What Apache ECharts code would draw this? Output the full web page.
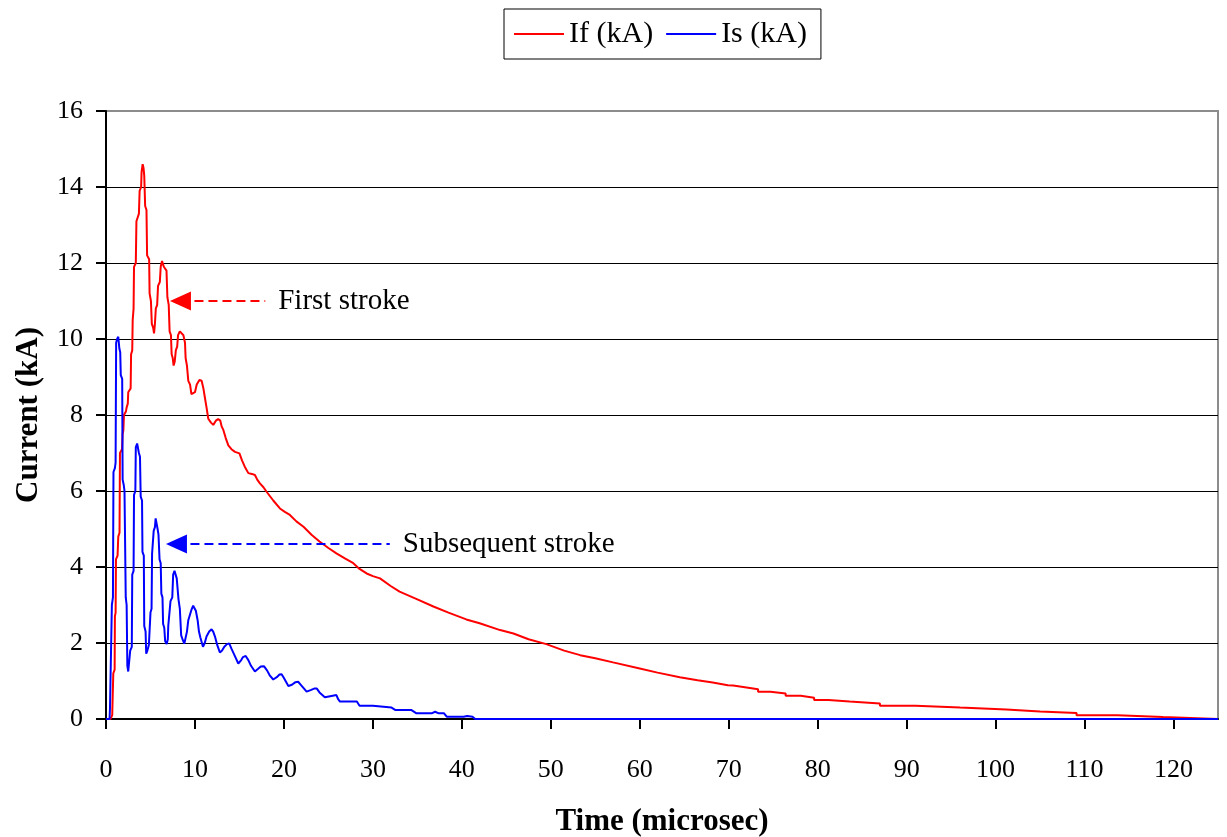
<!DOCTYPE html>
<html>
<head>
<meta charset="utf-8">
<script src="https://cdn.jsdelivr.net/npm/echarts@6/dist/echarts.min.js"></script>
<style>
html,body{margin:0;padding:0;background:#fff;}
#c{width:1227px;height:837px;}
</style>
</head>
<body>
<div id="c"></div>
<script>
// Series names
const seriesNames = ['If (kA)', 'Is (kA)'];

// First stroke (If): time in microseconds and current in kA
const tF = [0,0.5,0.55,0.7,0.72,0.8,0.82,0.97,1.0,1.08,1.12,1.3,1.38,1.52,1.57,1.8,1.87,1.95,2.02,2.25,2.32,2.45,2.5,2.77,2.82,2.95,3.0,3.1,3.15,3.35,3.42,3.7,3.78,3.95,4.0,4.12,4.22,4.3,4.4,4.55,4.62,4.85,4.9,5.05,5.15,5.3,5.4,5.5,5.6,5.75,5.85,6.05,6.15,6.3,6.4,6.5,6.8,6.9,7.05,7.15,7.3,7.38,7.5,7.6,7.72,7.85,8.0,8.1,8.3,8.5,8.7,8.88,8.95,9.1,9.25,9.45,9.6,9.8,10.0,10.2,10.5,10.75,10.95,11.1,11.3,11.5,11.8,12.06,12.35,12.6,12.85,13.0,13.2,13.45,13.75,14.1,14.5,15.0,15.3,15.6,16.0,16.4,16.74,17.0,17.3,17.7,18.05,18.8,19.55,20.1,20.67,21.4,22.2,23.1,24.0,25.0,25.9,26.9,27.8,28.5,29.3,30.0,30.8,32.0,33.0,35.0,36.8,38.5,40.5,42.0,44.3,45.8,47.5,49.5,51.5,53.3,55.0,57.0,60.0,62.0,64.5,66.5,68.2,69.9,70.5,70.5,72.0,72.0,73.3,73.3,74.7,74.7,76.4,76.4,78.1,78.1,79.6,79.6,81.2,81.2,83.6,83.6,87.0,87.0,91.0,91.0,96.0,96.0,101.2,101.2,105.0,105.0,109.1,109.1,113.7,113.7,118.8,118.8,125];
const iF = [0,0,0.05,0.1,0.3,0.3,1.2,1.3,2.7,2.8,4.2,4.3,4.8,4.9,7.0,7.1,7.5,7.6,8.0,8.1,8.2,8.3,8.6,8.7,9.6,9.7,10.5,10.8,11.9,12.0,13.1,13.3,13.9,14.0,14.4,14.6,14.5,14.3,13.5,13.4,12.2,12.1,11.2,11.0,10.4,10.3,10.15,10.4,10.8,10.9,11.4,11.5,11.9,12.05,12.1,11.9,11.8,11.1,10.9,10.2,10.1,9.6,9.5,9.3,9.4,9.7,9.8,10.1,10.2,10.25,10.1,9.9,9.5,9.3,8.9,8.8,8.55,8.5,8.6,8.8,8.92,8.9,8.7,8.48,8.2,7.9,7.8,7.74,7.85,7.89,7.85,7.7,7.6,7.4,7.2,7.1,7.03,6.99,6.8,6.64,6.47,6.45,6.42,6.3,6.2,6.1,5.98,5.75,5.54,5.45,5.37,5.2,5.06,4.85,4.67,4.5,4.36,4.22,4.1,3.95,3.83,3.76,3.7,3.5,3.35,3.15,2.96,2.8,2.62,2.52,2.34,2.25,2.1,1.97,1.8,1.68,1.6,1.49,1.33,1.22,1.1,1.02,0.96,0.89,0.88,0.83,0.83,0.78,0.78,0.72,0.72,0.67,0.67,0.61,0.61,0.56,0.56,0.5,0.5,0.46,0.46,0.41,0.41,0.35,0.35,0.3,0.3,0.25,0.25,0.2,0.2,0.16,0.16,0.1,0.1,0.05,0.05,0,0];

// Subsequent stroke (Is): time in microseconds and current in kA
const tS = [0,0.4,0.45,0.62,0.66,0.78,0.84,1.0,1.08,1.14,1.25,1.38,1.5,1.6,1.66,1.82,1.87,2.0,2.08,2.22,2.32,2.4,2.5,2.65,2.72,2.9,2.95,3.1,3.15,3.3,3.35,3.5,3.6,3.7,3.82,3.9,4.05,4.1,4.25,4.3,4.45,4.52,4.65,4.82,4.95,5.0,5.12,5.18,5.3,5.36,5.5,5.58,5.7,5.8,5.9,6.02,6.15,6.22,6.35,6.42,6.55,6.65,6.82,6.95,7.0,7.15,7.25,7.45,7.55,7.7,7.8,7.95,8.15,8.3,8.45,8.6,8.8,8.95,9.1,9.25,9.45,9.6,9.8,9.95,10.1,10.3,10.45,10.6,10.9,11.1,11.3,11.6,11.87,12.05,12.25,12.5,12.8,13.05,13.3,13.6,13.85,14.1,14.4,14.87,15.2,15.4,15.7,16.0,16.3,16.74,17.1,17.4,17.75,18.1,18.4,18.8,19.2,19.5,19.74,20.0,20.5,20.9,21.3,21.6,21.9,22.55,23.0,23.4,23.7,24.0,24.6,25.2,25.9,26.1,26.3,28.2,28.5,30.0,30.2,32.1,32.5,34.3,34.9,36.6,37.0,37.4,38.0,38.3,40.2,40.6,41.2,41.5,125];
const iS = [0,0,0.3,0.3,3.0,3.2,6.5,6.6,6.75,9.9,10.0,10.06,9.75,9.65,9.05,8.95,6.3,6.15,6.0,3.2,3.0,1.4,1.25,1.22,1.8,1.9,3.8,3.9,5.9,6.0,7.15,7.25,7.2,7.0,6.9,5.85,5.75,4.4,4.3,2.45,2.3,1.72,1.8,1.95,2.0,2.8,2.9,4.35,4.4,4.95,5.05,5.28,5.25,5.0,4.85,4.2,4.1,3.3,3.2,2.5,2.4,2.05,1.97,2.1,2.45,2.5,3.1,3.2,3.8,3.9,3.88,3.7,3.15,2.9,2.2,2.1,1.98,2.0,2.3,2.6,2.65,2.87,2.98,3.0,2.85,2.6,2.3,2.15,1.9,2.0,2.17,2.3,2.36,2.3,2.17,1.95,1.75,1.8,1.9,1.97,1.99,1.85,1.7,1.46,1.55,1.63,1.66,1.55,1.4,1.25,1.32,1.38,1.39,1.28,1.15,1.04,1.1,1.17,1.18,1.08,0.87,0.9,0.97,0.98,0.9,0.72,0.76,0.8,0.8,0.7,0.57,0.6,0.63,0.52,0.46,0.46,0.35,0.35,0.3,0.3,0.24,0.24,0.15,0.15,0.19,0.15,0.15,0.06,0.06,0.08,0.06,0,0];

// Axis tick labels
const xTicks = [0,10,20,30,40,50,60,70,80,90,100,110,120];
const yTicks = [0,2,4,6,8,10,12,14,16];

// Annotation texts
const noteF = 'First stroke';
const noteS = 'Subsequent stroke';

const zip = (t, v) => t.map((x, i) => [x, v[i]]);
const FONT = 'Liberation Serif';

const chart = echarts.init(document.getElementById('c'), null, {renderer: 'canvas'});
chart.setOption({
  animation: false,
  backgroundColor: '#fff',
  textStyle: {fontFamily: FONT, color: '#000'},
  legend: {
    left: 504, top: 9,
    padding: [10, 14, 10, 9],
    borderColor: '#000', borderWidth: 1,
    itemWidth: 50, itemHeight: 2, itemGap: 12,
    itemStyle: {opacity: 0},
    textStyle: {fontFamily: FONT, fontSize: 30, color: '#000'},
    data: seriesNames
  },
  grid: {
    left: 106, right: 9, top: 111, bottom: 118,
    containLabel: false, outerBoundsMode: 'none',
    show: true, borderColor: '#8c8c8c', borderWidth: 2
  },
  xAxis: {
    type: 'value', min: 0, max: 125, interval: 10,
    name: 'Time (microsec)', nameLocation: 'middle', nameGap: 87,
    nameTextStyle: {fontFamily: FONT, fontSize: 31, fontWeight: 'bold', color: '#000'},
    axisLine: {lineStyle: {color: '#000', width: 2}},
    axisTick: {show: true, length: 10, lineStyle: {color: '#000', width: 2}, customValues: xTicks},
    axisLabel: {fontFamily: FONT, fontSize: 26, color: '#000', margin: 38, customValues: xTicks},
    splitLine: {show: false}
  },
  yAxis: {
    type: 'value', min: 0, max: 16, interval: 2,
    name: 'Current (kA)', nameLocation: 'middle', nameGap: 62,
    nameTextStyle: {fontFamily: FONT, fontSize: 31, fontWeight: 'bold', color: '#000'},
    axisLine: {show: true, lineStyle: {color: '#000', width: 2}},
    axisTick: {show: true, length: 10, lineStyle: {color: '#000', width: 2}},
    axisLabel: {fontFamily: FONT, fontSize: 26, color: '#000', margin: 23, formatter: v => yTicks.includes(v) ? String(v) : ''},
    splitLine: {show: true, showMaxLine: false, lineStyle: {color: '#000', width: 1}}
  },
  series: [
    {
      name: seriesNames[0], type: 'line', data: zip(tF, iF),
      symbol: 'none', showSymbol: false, color: '#ff0000',
      lineStyle: {color: '#ff0000', width: 2},
      markLine: {
        silent: true, animation: false,
        symbol: ['triangle', 'none'], symbolSize: [19, 21],
        lineStyle: {color: '#ff0000', width: 2, type: [9, 5]},
        label: {show: true, position: 'end', distance: 13, formatter: noteF,
                fontFamily: FONT, fontSize: 29, color: '#000'},
        data: [[{coord: [8.37, 11.0]}, {coord: [17.9, 11.0]}]]
      }
    },
    {
      name: seriesNames[1], type: 'line', data: zip(tS, iS),
      symbol: 'none', showSymbol: false, color: '#0000ff',
      lineStyle: {color: '#0000ff', width: 2},
      markLine: {
        silent: true, animation: false,
        symbol: ['triangle', 'none'], symbolSize: [19, 21],
        lineStyle: {color: '#0000ff', width: 2, type: [9, 5]},
        label: {show: true, position: 'end', distance: 13, formatter: noteS,
                fontFamily: FONT, fontSize: 29, color: '#000'},
        data: [[{coord: [7.92, 4.605]}, {coord: [31.9, 4.605]}]]
      }
    }
  ]
});
</script>
</body>
</html>
